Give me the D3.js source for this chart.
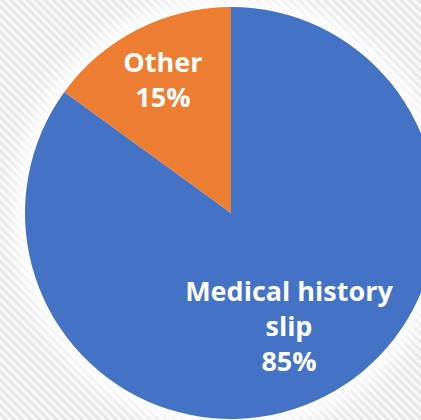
<!DOCTYPE html>
<html>
<head>
<meta charset="utf-8">
<script src="https://cdn.jsdelivr.net/npm/d3@7"></script>
<style>
  html, body { margin: 0; padding: 0; background: #ececec; }
  svg { display: block; }
</style>
</head>
<body>
<svg id="chart" width="421" height="420"></svg>
<script>
// Source of the documented history: share of cases
const categories = ["Medical history slip", "Other"];
const labelLines = [["Medical history", "slip"], ["Other"]];
const percents = [85, 15];
const colors = ["#4472C4", "#ED7D31"];

const W = 421, H = 420;
const cx = 231, cy = 213, radius = 206;

const svg = d3.select("#chart");
const defs = svg.append("defs");

// diagonal pinstripe background
const pat = defs.append("pattern")
  .attr("id", "stripes")
  .attr("patternUnits", "userSpaceOnUse")
  .attr("width", 6).attr("height", 6)
  .attr("patternTransform", "rotate(-45)");
pat.append("rect").attr("width", 6).attr("height", 6).attr("fill", "#f8f8f8");
pat.append("rect").attr("width", 3).attr("height", 6).attr("fill", "#e6e6e6");

svg.append("rect").attr("width", W).attr("height", H).attr("fill", "url(#stripes)");

// soft white halo around the pie
const glow = defs.append("filter").attr("id", "glow")
  .attr("x", "-30%").attr("y", "-30%").attr("width", "160%").attr("height", "160%");
glow.append("feGaussianBlur").attr("stdDeviation", 10);

const g = svg.append("g").attr("transform", `translate(${cx},${cy})`);

g.append("circle").attr("r", radius + 12).attr("fill", "#ffffff")
  .attr("opacity", 0.95).attr("filter", "url(#glow)");
g.append("circle").attr("r", radius + 2).attr("fill", "#ffffff").attr("opacity", 0.8);

const pie = d3.pie().sort(null).value(d => d.value);
const data = categories.map((c, i) => ({ name: c, value: percents[i], lines: labelLines[i], color: colors[i] }));
const arcs = pie(data);

const arc = d3.arc().innerRadius(0).outerRadius(radius);

g.selectAll("path.slice")
  .data(arcs)
  .join("path")
  .attr("class", "slice")
  .attr("d", arc)
  .attr("fill", d => d.data.color)
  .attr("stroke", "none");

// labels inside each slice
const labelFactor = { "Medical history slip": 0.62, "Other": 0.728 };
const fontSize = 27, lineGap = 35, capH = fontSize * 0.714;

arcs.forEach(a => {
  const r = radius * labelFactor[a.data.name];
  const [lx, ly] = d3.arc().innerRadius(r).outerRadius(r).centroid(a);
  const lines = a.data.lines.concat([a.data.value + "%"]);
  const first = ly - (lines.length - 1) * lineGap / 2 + capH / 2;
  const t = g.append("text")
    .attr("text-anchor", "middle")
    .attr("font-family", "'Open Sans', sans-serif")
    .attr("font-weight", "bold")
    .attr("font-size", fontSize)
    .attr("fill", "#ffffff");
  lines.forEach((s, i) => {
    t.append("tspan").attr("x", lx).attr("y", first + i * lineGap).text(s);
  });
});
</script>
</body>
</html>
